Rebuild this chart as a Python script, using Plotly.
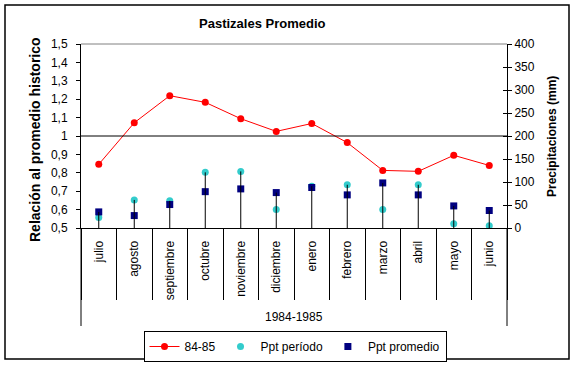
import plotly.graph_objects as go

months = ["julio", "agosto", "septiembre", "octubre", "noviembre", "diciembre",
          "enero", "febrero", "marzo", "abril", "mayo", "junio"]
relacion_8485 = [0.846, 1.072, 1.219, 1.183, 1.094, 1.025, 1.068, 0.964, 0.813, 0.808, 0.895, 0.840]
ppt_periodo = [23, 61, 59, 121, 123, 40, 91, 94, 40, 94, 9, 5]
ppt_promedio = [35, 27, 51, 79, 85, 77, 88, 72, 98, 72, 48, 38]
period_label = "1984-1985"
ref_value = 1.0

FONT = "Arial, Liberation Sans, sans-serif"
W, H = 577, 365
L, R, T, B = 81, 507, 44, 228  # plot area in pixels


def px(x):
    return (x - L) / (R - L)


def py(y):
    return (B - y) / (B - T)


# drop lines from max precipitation to axis
drop_x, drop_y = [], []
for m, a, b in zip(months, ppt_periodo, ppt_promedio):
    drop_x += [m, m, None]
    drop_y += [0, max(a, b), None]

fig = go.Figure()
fig.add_trace(go.Scatter(x=drop_x, y=drop_y, mode="lines", line=dict(color="black", width=1),
                         xaxis="x2", yaxis="y2", showlegend=False, hoverinfo="skip"))
fig.add_trace(go.Scatter(x=months, y=relacion_8485, name="84-85", mode="lines+markers",
                         line=dict(color="#FF0000", width=1),
                         marker=dict(color="#FF0000", size=7, symbol="circle")))
fig.add_trace(go.Scatter(x=months, y=ppt_periodo, name="Ppt período", mode="markers",
                         marker=dict(color="#33CCCC", size=7, symbol="circle"),
                         yaxis="y2"))
fig.add_trace(go.Scatter(x=months, y=ppt_promedio, name="Ppt promedio", mode="markers",
                         marker=dict(color="#000080", size=7, symbol="square"),
                         yaxis="y2"))
fig.add_trace(go.Scatter(x=months, y=[None] * len(months), yaxis="y3",
                         showlegend=False, hoverinfo="skip"))

fig.update_layout(
    template="none",
    width=W, height=H,
    margin=dict(l=L, r=W - R, t=T, b=H - B, pad=0, autoexpand=False),
    paper_bgcolor="white", plot_bgcolor="white",
    font=dict(family=FONT, size=12, color="black"),
    separators=",.",
    showlegend=True,
    xaxis=dict(type="category", categoryorder="array", categoryarray=months,
               range=[-0.5, len(months) - 0.5], automargin=False,
               showline=True, linecolor="black", linewidth=1,
               ticks="outside", ticklen=7, tickcolor="rgba(0,0,0,0)",
               tickangle=-90, tickfont=dict(size=12), showgrid=False, zeroline=False),
    xaxis2=dict(type="category", categoryorder="array", categoryarray=months,
                range=[-0.5, len(months) - 0.5], overlaying="x", anchor="y2", side="bottom",
                automargin=False,
                showticklabels=False, ticks="outside", ticklen=71, tickwidth=1,
                tickcolor="black", tickson="boundaries", showgrid=False, showline=False,
                zeroline=False),
    yaxis=dict(range=[0.5, 1.5], dtick=0.1, tick0=0.5, showline=True, linecolor="black",
               linewidth=1, ticks="outside", ticklen=4, tickcolor="black", automargin=False,
               showgrid=False, zeroline=False, tickfont=dict(size=12), ticklabelstandoff=6),
    yaxis2=dict(range=[0, 400], dtick=50, overlaying="y", side="right", anchor="x",
                automargin=False,
                showline=True, linecolor="black", linewidth=1, ticks="outside", ticklen=4,
                tickcolor="black", showgrid=False, zeroline=False, tickfont=dict(size=12)),
    yaxis3=dict(range=[0, 400], dtick=50, overlaying="y", side="right", anchor="x",
                automargin=False,
                showline=False, ticks="inside", ticklen=4, tickcolor="black",
                showticklabels=False, showgrid=False, zeroline=False),
    legend=dict(orientation="h", x=px(295), xanchor="center", y=py(331), yanchor="top",
                bordercolor="black", borderwidth=1, bgcolor="white",
                font=dict(size=12), itemwidth=30, tracegroupgap=0),
)

shapes = [
    dict(type="line", xref="paper", yref="paper", x0=0, x1=1, y0=1, y1=1,
         line=dict(color="#808080", width=1)),
    dict(type="line", xref="paper", yref="y", x0=0, x1=1, y0=ref_value, y1=ref_value,
         line=dict(color="black", width=1)),
    dict(type="line", xref="paper", yref="paper", x0=0, x1=0, y0=0, y1=py(326),
         line=dict(color="black", width=1)),
    dict(type="line", xref="paper", yref="paper", x0=1, x1=1, y0=0, y1=py(326),
         line=dict(color="black", width=1)),
    dict(type="rect", xref="paper", yref="paper", x0=px(5), x1=px(569), y0=py(5), y1=py(359),
         line=dict(color="black", width=1.5)),
]
fig.update_layout(shapes=shapes)

annotations = [
    dict(text="<b>Pastizales Promedio</b>", x=px(262), y=py(24), xref="paper", yref="paper",
         showarrow=False, font=dict(size=13), xanchor="center", yanchor="middle"),
    dict(text="<b>Relación al promedio historico</b>", x=px(35), y=py(140), xref="paper",
         yref="paper", showarrow=False, textangle=-90, font=dict(size=14),
         xanchor="center", yanchor="middle"),
    dict(text="<b>Precipitaciones (mm)</b>", x=px(552), y=py(137), xref="paper", yref="paper",
         showarrow=False, textangle=-90, font=dict(size=12), xanchor="center",
         yanchor="middle"),
    dict(text=period_label, x=0.5, y=py(317), xref="paper", yref="paper", showarrow=False,
         font=dict(size=12), xanchor="center", yanchor="middle"),
]
fig.update_layout(annotations=annotations)

fig.write_html("out.html", config={"displayModeBar": False},
               post_script="document.body.style.margin='0px';document.body.style.overflow='hidden';")
